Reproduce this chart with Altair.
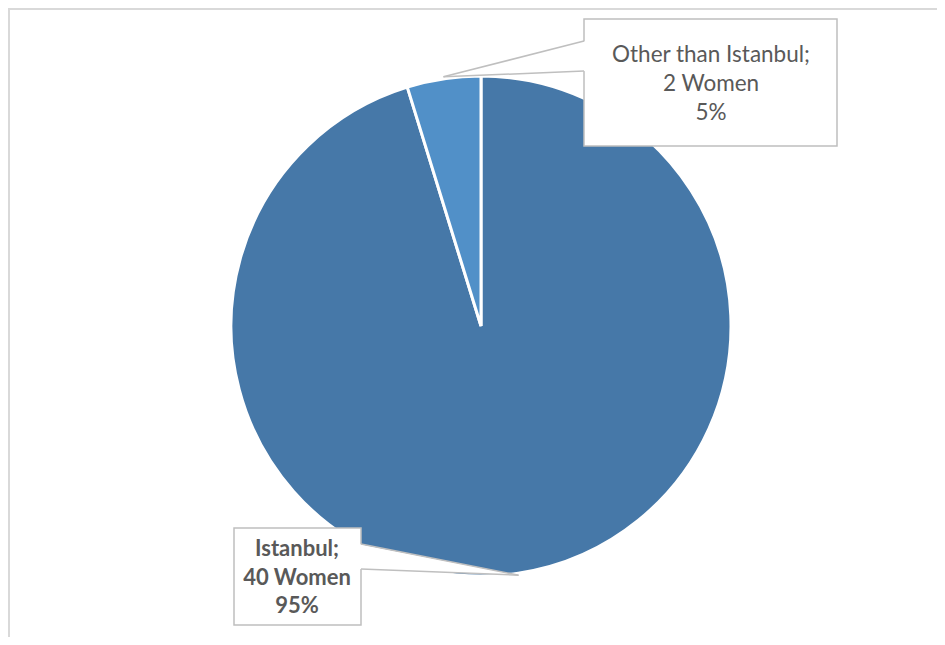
import math
import altair as alt
import pandas as pd

# ---- data ----
categories = ["Istanbul", "Other than Istanbul"]
counts = [40, 2]
colors = ["#4678A8", "#5190C8"]
bold_label = [True, False]

total = sum(counts)
percents = [round(100 * c / total) for c in counts]

# ---- layout constants (chart pixel coordinates) ----
W, H = 929, 629
CX, CY, R = 473, 318, 250
FONT = "Lato"
FS_NORMAL = 22.5
FS_BOLD = 22
TXT = "#595959"
BOX_STROKE = "#BFBFBF"

boxes = {
    "Istanbul": dict(x0=226, x1=353, y0=520, y1=617, tx=289, ty=[541, 570, 598], side="right", wy=[536, 561]),
    "Other than Istanbul": dict(x0=576, x1=829, y0=11, y1=138, tx=703, ty=[47, 76, 105], side="left", wy=[33, 63]),
}

df_pie = pd.DataFrame({"cat": categories, "count": counts, "idx": list(range(len(categories)))})

tips = {}
cum = 0
for cat, c in zip(categories, counts):
    mid = (cum + c / 2) / total * 2 * math.pi
    tips[cat] = (CX + (R + 2) * math.sin(mid), CY - (R + 2) * math.cos(mid))
    cum += c

rect_rows, area_rows, rule_rows, text_rows = [], [], [], []
for cat, c, p, b in zip(categories, counts, percents, bold_label):
    bx = boxes[cat]
    rect_rows.append(dict(x=bx["x0"], x2=bx["x1"], y=bx["y0"], y2=bx["y1"]))
    tx, ty = tips[cat]
    edge = bx["x1"] if bx["side"] == "right" else bx["x0"]
    inner = edge - 2 if bx["side"] == "right" else edge + 2
    area_rows.append(dict(id=cat, x=inner, y=bx["wy"][0], y2=bx["wy"][1]))
    area_rows.append(dict(id=cat, x=tx, y=ty, y2=ty))
    for wy in bx["wy"]:
        rule_rows.append(dict(x=edge, y=wy, x2=tx, y2=ty))
    lines = [f"{cat};", f"{c} Women", f"{p}%"]
    for line, ly in zip(lines, bx["ty"]):
        text_rows.append(dict(t=line, x=bx["tx"], y=ly, b=b))

df_rect = pd.DataFrame(rect_rows)
df_area = pd.DataFrame(area_rows)
df_rule = pd.DataFrame(rule_rows)
df_text = pd.DataFrame(text_rows)

def X(f):
    return alt.X(f, scale=None, axis=None)

def Y(f):
    return alt.Y(f, scale=None, axis=None)

border = alt.Chart(pd.DataFrame({"x": [0, 1], "x2": [W, 1], "y": [1, 0], "y2": [1, H]})).mark_rule(
    color="#D9D9D9", strokeWidth=2
).encode(x=X("x:Q"), x2="x2:Q", y=Y("y:Q"), y2="y2:Q")

pie = alt.Chart(df_pie).mark_arc(radius=R, stroke="white", strokeWidth=3).encode(
    theta=alt.Theta("count:Q", stack=True),
    color=alt.Color("cat:N", scale=alt.Scale(domain=categories, range=colors), legend=None),
    order=alt.Order("idx:Q"),
    x=alt.value(CX),
    y=alt.value(CY),
)

rects = alt.Chart(df_rect).mark_rect(fill="white", stroke=BOX_STROKE, strokeWidth=1.5).encode(
    x=X("x:Q"), x2="x2:Q", y=Y("y:Q"), y2="y2:Q"
)

wedges = alt.Chart(df_area).mark_area(fill="white", opacity=1).encode(
    x=X("x:Q"), y=Y("y:Q"), y2="y2:Q", detail="id:N"
)

wedge_lines = alt.Chart(df_rule).mark_rule(color=BOX_STROKE, strokeWidth=1.5).encode(
    x=X("x:Q"), x2="x2:Q", y=Y("y:Q"), y2="y2:Q"
)

text_bold = alt.Chart(df_text[df_text["b"]]).mark_text(
    font=FONT, fontSize=FS_BOLD, color=TXT, align="center", baseline="middle", fontWeight="bold"
).encode(x=X("x:Q"), y=Y("y:Q"), text="t:N")

text_norm = alt.Chart(df_text[~df_text["b"]]).mark_text(
    font=FONT, fontSize=FS_NORMAL, color=TXT, align="center", baseline="middle"
).encode(x=X("x:Q"), y=Y("y:Q"), text="t:N")

chart = alt.layer(border, pie, rects, wedges, wedge_lines, text_bold, text_norm).properties(
    width=W, height=H, autosize=alt.AutoSizeParams(type="none"), padding=0, background="white"
).configure_view(stroke=None)

chart.save("out.html", embed_options={"renderer": "svg", "actions": False})
